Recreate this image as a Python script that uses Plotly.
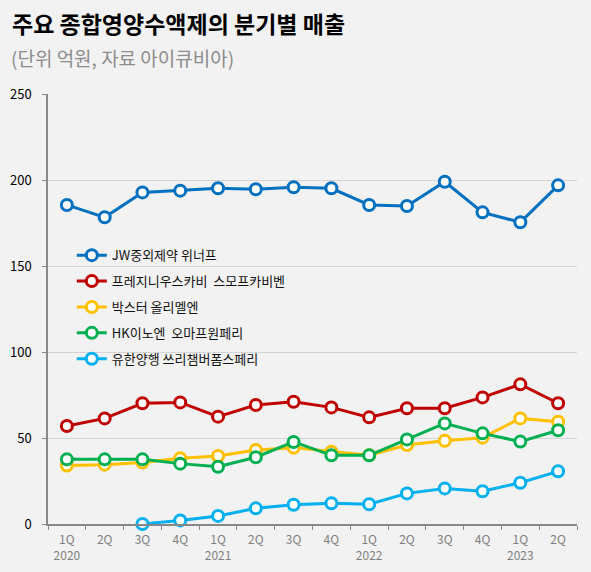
import plotly.graph_objects as go

quarters = ["1Q", "2Q", "3Q", "4Q", "1Q", "2Q", "3Q", "4Q", "1Q", "2Q", "3Q", "4Q", "1Q", "2Q"]
years = ["2020", "", "", "", "2021", "", "", "", "2022", "", "", "", "2023", ""]
cats = ["%s %d" % (q, i) for i, q in enumerate(quarters)]
ticktext = [q + ("<br>" + y if y else "") for q, y in zip(quarters, years)]

names = ["JW중외제약 위너프", "프레지니우스카비  스모프카비벤", "박스터 올리멜엔",
         "HK이노엔  오마프원페리", "유한양행 쓰리챔버폼스페리"]
jw = [185.5, 178.3, 192.8, 193.8, 195.2, 194.6, 195.8, 195.2, 185.5, 184.9, 199, 181.2, 175.4, 196.9]
fresenius = [57, 61.4, 70.2, 70.7, 62.4, 69.2, 71.1, 67.8, 62, 67.3, 67.3, 73.6, 81.2, 70.2]
baxter = [34, 34.5, 35.7, 38.2, 39.5, 43, 44.4, 42, 40, 45.9, 48.4, 50.2, 61.4, 59.5]
hk = [37.6, 37.6, 37.6, 35.1, 33.3, 38.8, 47.7, 39.9, 39.9, 49.2, 58.5, 52.7, 47.9, 54.5]
yuhan = [None, None, 0, 2.1, 4.7, 9.1, 11.2, 12, 11.5, 17.8, 20.7, 19, 24, 30.6]
colors = ["#0070c0", "#c00000", "#ffc000", "#00b050", "#00b0f0"]

fig = go.Figure()
for i, (name, vals, c) in enumerate(zip(names, [jw, fresenius, baxter, hk, yuhan], colors)):
    fig.add_trace(go.Scatter(
        x=cats, y=vals, name=name, mode="lines+markers", legendgroup="g%d" % i,
        line=dict(color=c, width=3), cliponaxis=False,
        marker=dict(symbol="circle", size=11, color="white", line=dict(color=c, width=3)),
    ))

fig.update_layout(
    width=591, height=572,
    paper_bgcolor="#f2f2f2", plot_bgcolor="#f2f2f2",
    margin=dict(l=48, r=14, t=94, b=48),
    font=dict(family="Noto Sans CJK KR", size=13, color="#000"),
    showlegend=True,
    legend=dict(x=0.045, y=0.66, xanchor="left", yanchor="top",
                bgcolor="rgba(0,0,0,0)", font=dict(size=13, color="#111"),
                tracegroupgap=6, itemwidth=30),
)
fig.update_xaxes(
    type="category", tickmode="array", tickvals=cats, ticktext=ticktext,
    range=[-0.5, len(cats) - 0.5],
    tickson="boundaries", ticks="outside", ticklen=4, tickcolor="#888",
    showline=True, linecolor="#888", linewidth=1.5, showgrid=False,
    tickangle=0, automargin=False, ticklabelstandoff=4,
    tickfont=dict(size=12, color="#808080"),
)
fig.update_yaxes(
    range=[0, 250], dtick=50, ticks="outside", ticklen=4, tickcolor="#888",
    showline=True, linecolor="#888", linewidth=1.5, automargin=False,
    ticklabelstandoff=8,
    showgrid=True, gridcolor="#d4d4d4", gridwidth=1, zeroline=False,
    tickfont=dict(size=13, color="#000"),
)

fig.add_annotation(text="<b>주요 종합영양수액제의 분기별 매출</b>", xref="paper", yref="paper",
                   x=-0.071, y=1.164, xanchor="left", yanchor="middle", showarrow=False,
                   font=dict(size=23, color="#000"))
fig.add_annotation(text="(단위 억원, 자료 아이큐비아)", xref="paper", yref="paper",
                   x=-0.073, y=1.086, xanchor="left", yanchor="middle", showarrow=False,
                   font=dict(size=19, color="#8c8c8c"))

fig.write_html("out.html", config={"displayModeBar": False},
               post_script="document.body.style.margin='0';")
